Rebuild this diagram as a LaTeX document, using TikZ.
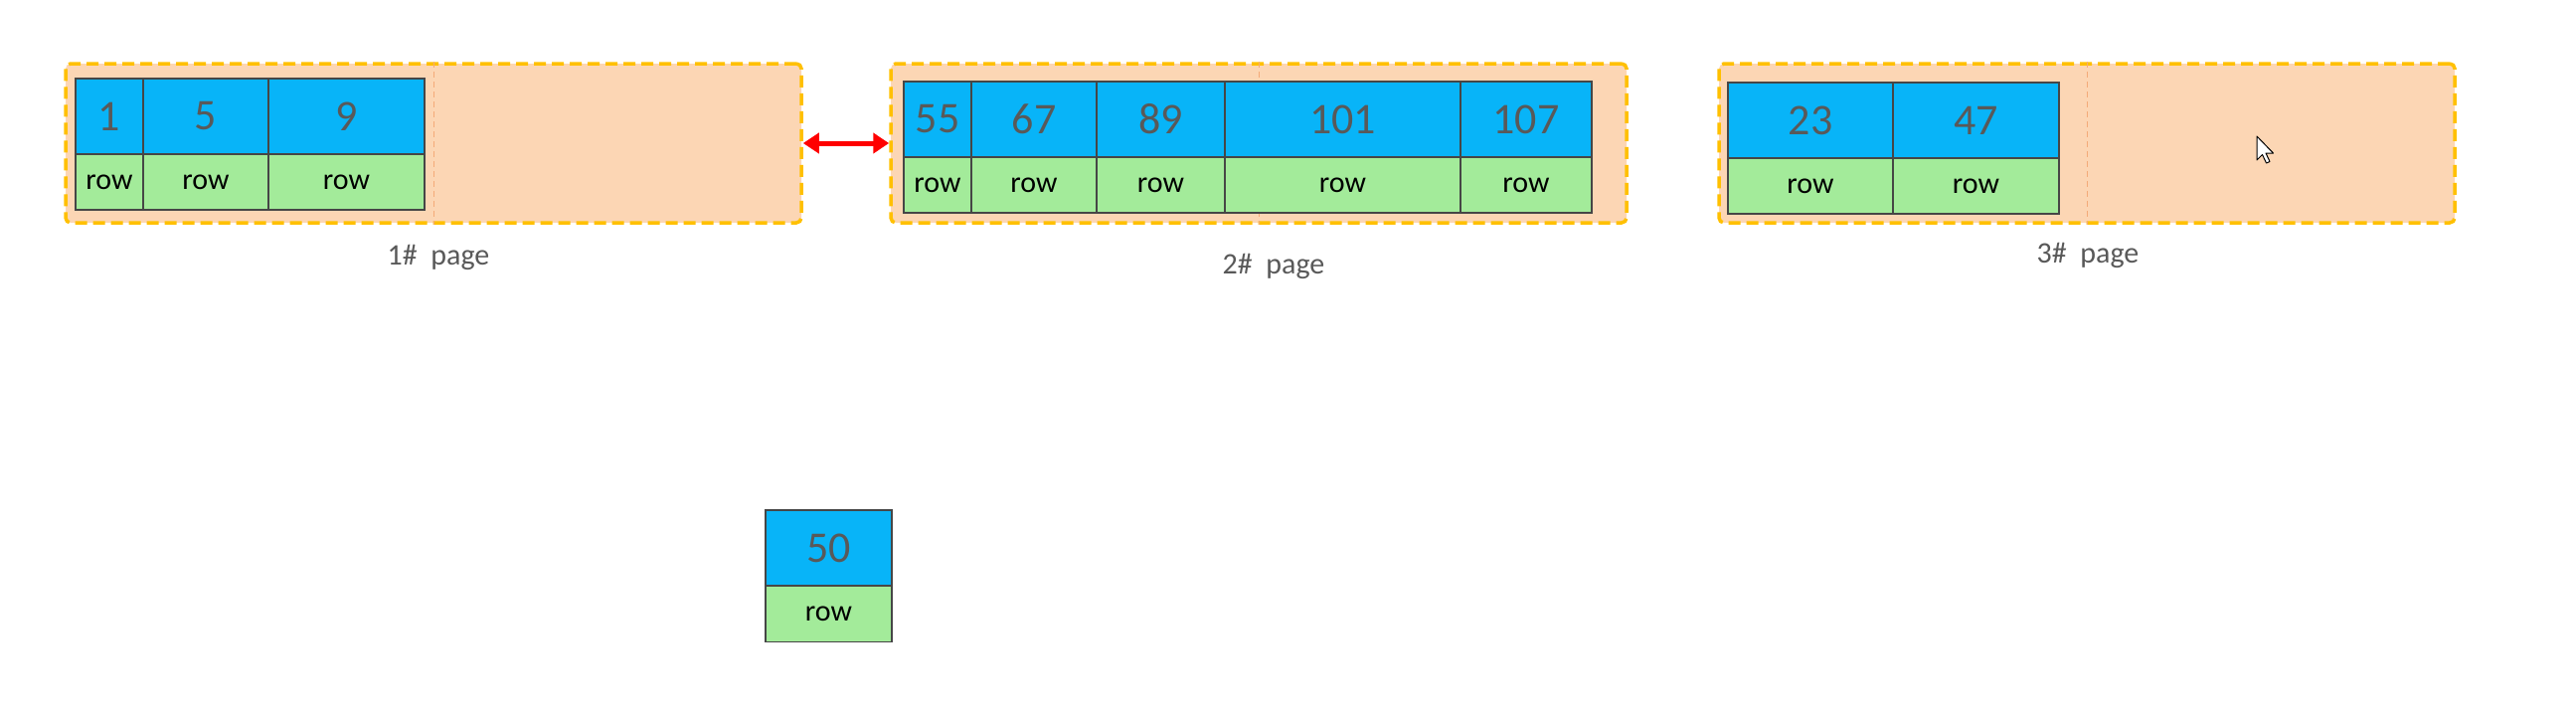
\documentclass[tikz,border=0pt]{standalone}
\usepackage{fontspec}
\setmainfont{Carlito}
\usetikzlibrary{arrows.meta}
\definecolor{pagefill}{RGB}{252,214,180}
\definecolor{pageline}{RGB}{255,192,0}
\definecolor{midline}{RGB}{244,170,120}
\definecolor{keyfill}{RGB}{8,180,248}
\definecolor{rowfill}{RGB}{163,235,154}
\definecolor{cellline}{RGB}{70,70,70}
\definecolor{textgray}{RGB}{89,89,89}

\begin{document}
\begin{tikzpicture}[%
	x=1pt, y=-1pt,%
	page/.style ={draw=pageline, fill=pagefill, line width=3.5pt, dash pattern=on 12pt off 6pt, rounded corners=5pt, minimum width=740pt, minimum height=160pt, inner sep=0pt},%
	middle/.style ={draw=midline, line width=1pt, dash pattern=on 6pt off 4pt},%
	key/.style ={draw=cellline, line width=1.8pt, fill=keyfill, text=textgray, font=\fontsize{44}{44}\selectfont, minimum height=76pt, inner sep=0pt, outer sep=0pt},%
	rec/.style ={draw=cellline, line width=1.8pt, fill=rowfill, text=black, font=\fontsize{30}{30}\selectfont, minimum height=56pt, inner sep=0pt, outer sep=0pt},%
	caption/.style ={text=textgray, font=\fontsize{30}{30}\selectfont},%
	link/.style ={draw=red, line width=5pt, {Triangle[length=16pt,width=20pt]}-{Triangle[length=16pt,width=20pt]}},%
	]
	\useasboundingbox (0,0) rectangle (2591,715);
%%% pages
	\foreach \p/\x in {1/436,2/1266,3/2099}
		{\node [page] (page\p) at (\x,144) {};
		 \draw [middle] (page\p.north) -- (page\p.south);}
	\draw [link] (page1.east) -- (page2.west);
%%% pages
%%% cells
	\foreach \a/\b/\k [count=\i] in {76/144/1,144/270/5,270/427/9}
		{\node [key, minimum width={\b-\a}] (key1-\i) at ({(\a+\b)/2},117) {\k};
		 \node [rec, minimum width={\b-\a}] (row1-\i) at ({(\a+\b)/2},183) {row};}
	\foreach \a/\b/\k [count=\i] in {909/977/55,977/1103/67,1103/1232/89,1232/1469/101,1469/1601/107}
		{\node [key, minimum width={\b-\a}] (key2-\i) at ({(\a+\b)/2},120) {\k};
		 \node [rec, minimum width={\b-\a}] (row2-\i) at ({(\a+\b)/2},186) {row};}
	\foreach \a/\b/\k [count=\i] in {1738/1904/23,1904/2071/47}
		{\node [key, minimum width={\b-\a}] (key3-\i) at ({(\a+\b)/2},121) {\k};
		 \node [rec, minimum width={\b-\a}] (row3-\i) at ({(\a+\b)/2},187) {row};}
	\node [key, minimum width=127pt] (newkey) at (833.5,551) {50};
	\node [rec, minimum width=127pt] (newrow) at (833.5,617.5) {row};
%%% cells
%%% captions
	\node [caption] (cap1) at (441,259) {1\#\ \ page};
	\node [caption] (cap2) at (1281,268) {2\#\ \ page};
	\node [caption] (cap3) at (2100,257) {3\#\ \ page};
%%% captions
%%% pointer
	\draw [fill=white, line width=1pt, line join=round] (2270,137) -- ++(0,24) -- ++(5.5,-5.5) -- ++(4,8.5) -- ++(3.5,-1.5) -- ++(-4,-8.5) -- ++(7.5,0) -- cycle;
\end{tikzpicture}
\end{document}
